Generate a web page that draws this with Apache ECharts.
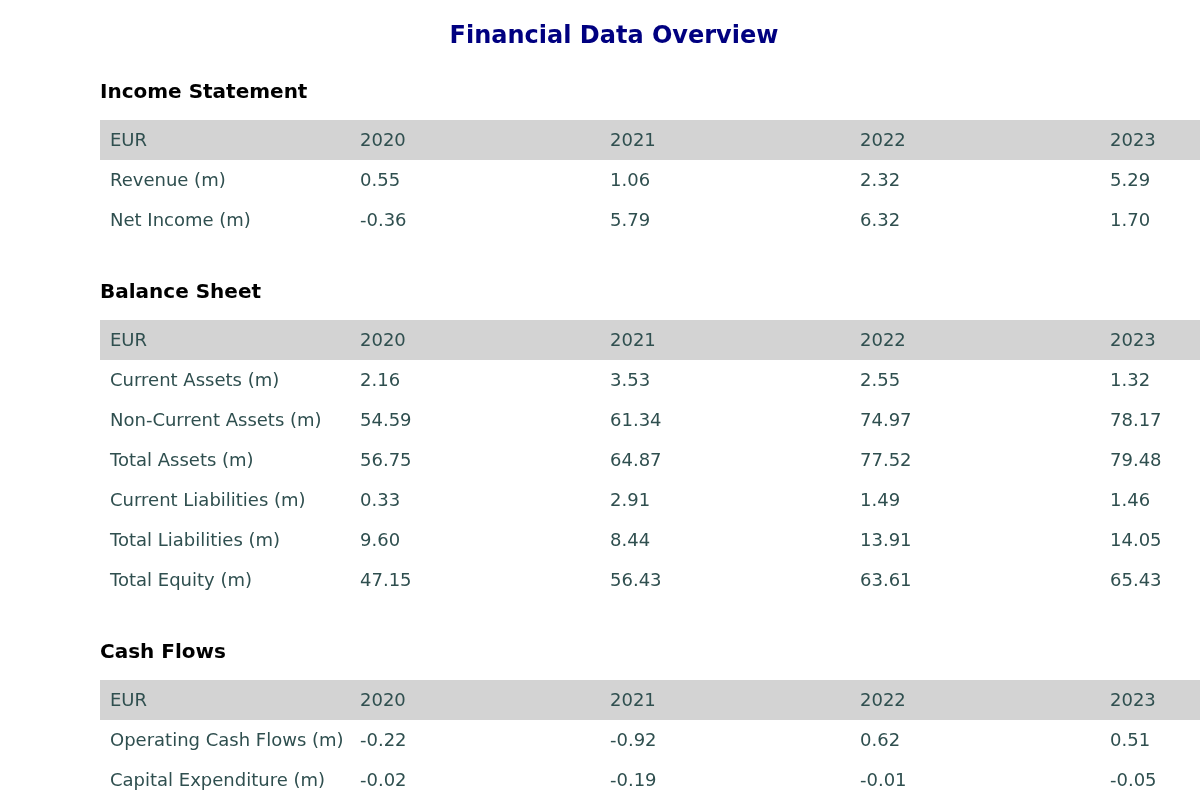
<!doctype html>
<html>
	<head>
		<meta charset="utf-8">
		<title>Financial Data Overview</title>
		<script type="text/javascript" src="https://cdn.jsdelivr.net/npm/echarts@6/dist/echarts.min.js"></script>
	</head>

	<body style="margin:0;padding:0">
		<div id="tb" style="width:1200px;height:800px;"></div>
		<script>
			// table data
			var years = ['2020', '2021', '2022', '2023'];

			var incomeRows = ['Revenue (m)', 'Net Income (m)'];
			var revenue = [0.55, 1.06, 2.32, 5.29];
			var netIncome = [-0.36, 5.79, 6.32, 1.70];

			var balanceRows = ['Current Assets (m)', 'Non-Current Assets (m)', 'Total Assets (m)',
				'Current Liabilities (m)', 'Total Liabilities (m)', 'Total Equity (m)'];
			var currentAssets = [2.16, 3.53, 2.55, 1.32];
			var nonCurrentAssets = [54.59, 61.34, 74.97, 78.17];
			var totalAssets = [56.75, 64.87, 77.52, 79.48];
			var currentLiabilities = [0.33, 2.91, 1.49, 1.46];
			var totalLiabilities = [9.60, 8.44, 13.91, 14.05];
			var totalEquity = [47.15, 56.43, 63.61, 65.43];

			var cashRows = ['Operating Cash Flows (m)', 'Capital Expenditure (m)'];
			var operatingCash = [-0.22, -0.92, 0.62, 0.51];
			var capex = [-0.02, -0.19, -0.01, -0.05];

			var sections = [
				{title: 'Income Statement', labels: incomeRows, values: [revenue, netIncome]},
				{title: 'Balance Sheet', labels: balanceRows,
					values: [currentAssets, nonCurrentAssets, totalAssets, currentLiabilities, totalLiabilities, totalEquity]},
				{title: 'Cash Flows', labels: cashRows, values: [operatingCash, capex]}
			];

			// layout: y in pixel units on a hidden axis, x in column units (250px each)
			var rowH = 40;
			var items = [];
			var cursor = 92;
			sections.forEach(function(s) {
				items.push({kind: 'title', y: cursor, text: s.title});
				cursor += 28;
				items.push({kind: 'header', y: cursor, cells: ['EUR'].concat(years)});
				cursor += rowH;
				s.labels.forEach(function(lab, i) {
					items.push({kind: 'row', y: cursor, cells: [lab].concat(s.values[i].map(function(v) {
						return v.toFixed(2);
					}))});
					cursor += rowH;
				});
				cursor += 52;
			});

			var bt = document.getElementById('tb');
			var btchart = echarts.init(bt);

			var font = 'DejaVu Sans';

			btchart.setOption({
				animation: false,
				title: {
					text: 'Financial Data Overview',
					left: 609,
					textAlign: 'center',
					top: 20,
					textStyle: {fontFamily: font, fontSize: 24, fontWeight: 'bold', color: '#000080'}
				},
				grid: {left: 100, right: 0, top: 0, bottom: 0},
				xAxis: {type: 'value', min: 0, max: 4.4, show: false},
				yAxis: {type: 'value', min: 0, max: 800, inverse: true, show: false},
				series: [{
					type: 'custom',
					clip: false,
					data: items.map(function(it, i) { return [0, it.y, i]; }),
					renderItem: function(params, api) {
						var it = items[api.value(2)];
						var p = api.coord([0, api.value(1)]);
						var colW = api.size([1, 0])[0];
						var h = api.size([0, rowH])[1];
						if (it.kind === 'title') {
							return {
								type: 'text',
								style: {
									text: it.text, x: p[0], y: p[1] + 1,
									verticalAlign: 'middle', align: 'left',
									font: 'bold 20px "' + font + '"', fill: '#000'
								}
							};
						}
						var children = [];
						if (it.kind === 'header') {
							children.push({
								type: 'rect',
								shape: {x: p[0], y: p[1], width: colW * 5, height: h},
								style: {fill: '#d3d3d3'}
							});
						}
						it.cells.forEach(function(c, j) {
							children.push({
								type: 'text',
								style: {
									text: c, x: p[0] + 10 + j * colW, y: p[1] + h / 2 + 1,
									verticalAlign: 'middle', align: 'left',
									font: '18px "' + font + '"', fill: '#2f4f4f'
								}
							});
						});
						return {type: 'group', children: children};
					}
				}]
			});
		</script>
	</body>
</html>
